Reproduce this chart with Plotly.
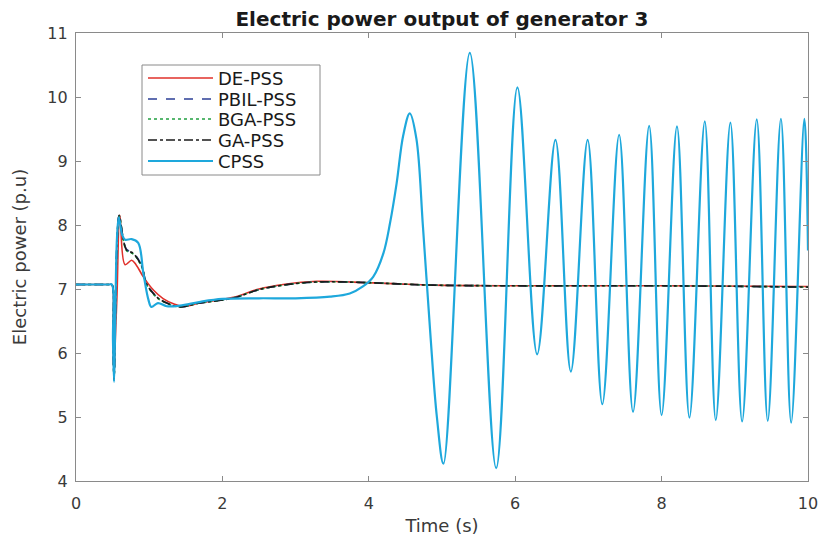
import plotly.graph_objects as go

# Electric power output of generator 3 under different PSS designs (p.u. vs time in s)

# CPSS response (unstable, growing oscillation after ~3.8 s)
t_cpss = [0, 0.45, 0.49, 0.505, 0.52, 0.535, 0.56, 0.585, 0.63, 0.67, 0.76, 0.85, 0.92,
          0.99, 1.03, 1.12, 1.24, 1.42, 1.7, 2.0, 2.5, 3.0, 3.47, 3.74, 3.92, 4.06, 4.20,
          4.29, 4.38, 4.47, 4.56, 4.65, 4.74, 4.84, 4.93, 5.02, 5.38, 5.74, 6.03, 6.30,
          6.55, 6.76, 6.99, 7.19, 7.42, 7.61, 7.83, 8.00, 8.21, 8.38, 8.59, 8.74, 8.94,
          9.10, 9.30, 9.45, 9.63, 9.77, 9.95, 10.0]
p_cpss = [7.07, 7.07, 7.07, 6.2, 5.55, 6.4, 7.8, 8.12, 7.85, 7.77, 7.78, 7.72, 7.25,
          6.83, 6.72, 6.78, 6.73, 6.74, 6.80, 6.845, 6.855, 6.855, 6.88, 6.93, 7.04, 7.19, 7.56,
          8.03, 8.65, 9.40, 9.745, 9.35, 7.97, 6.31, 5.00, 4.27, 10.69, 4.20, 10.15, 5.98,
          9.33, 5.71, 9.33, 5.20, 9.41, 5.08, 9.55, 5.03, 9.54, 4.99, 9.62, 4.95, 9.60,
          4.93, 9.65, 4.94, 9.66, 4.91, 9.66, 7.60]

# DE-PSS response
t_de = [0, 0.45, 0.49, 0.505, 0.52, 0.54, 0.56, 0.60, 0.67, 0.76, 0.82, 0.92, 1.06,
        1.19, 1.33, 1.47, 1.69, 2.15, 2.5, 2.83, 3.29, 3.97, 4.4, 4.88, 6.0, 8.0, 10.0]
p_de = [7.07, 7.07, 7.07, 6.3, 5.65, 6.3, 6.9, 8.15, 7.38, 7.45, 7.38, 7.19, 6.98,
        6.85, 6.77, 6.73, 6.78, 6.87, 7.0, 7.07, 7.12, 7.10, 7.08, 7.06, 7.05, 7.05, 7.04]

# GA-PSS response
t_ga = [0, 0.45, 0.49, 0.505, 0.52, 0.535, 0.56, 0.59, 0.69, 0.78, 0.90, 0.96, 1.10,
        1.24, 1.42, 1.69, 2.15, 2.5, 2.83, 3.29, 3.97, 4.4, 4.88, 6.0, 8.0, 10.0]
p_ga = [7.07, 7.07, 7.07, 6.2, 5.58, 6.4, 7.7, 8.15, 7.61, 7.56, 7.35, 7.09, 6.88,
        6.78, 6.72, 6.78, 6.86, 6.99, 7.06, 7.11, 7.10, 7.08, 7.06, 7.05, 7.05, 7.03]

# PBIL-PSS response
t_pbil = t_ga
p_pbil = [7.07, 7.07, 7.07, 6.2, 5.58, 6.4, 7.7, 8.14, 7.62, 7.57, 7.36, 7.10, 6.88,
          6.78, 6.72, 6.78, 6.86, 6.99, 7.06, 7.11, 7.10, 7.08, 7.06, 7.05, 7.05, 7.03]

# BGA-PSS response
t_bga = t_ga
p_bga = [7.07, 7.07, 7.07, 6.2, 5.58, 6.4, 7.7, 8.14, 7.60, 7.55, 7.34, 7.08, 6.87,
         6.78, 6.72, 6.78, 6.86, 6.99, 7.06, 7.11, 7.10, 7.08, 7.06, 7.05, 7.05, 7.03]

x_ticks = [0, 2, 4, 6, 8, 10]
y_ticks = [4, 5, 6, 7, 8, 9, 10, 11]

FONT = "DejaVu Sans, Liberation Sans, sans-serif"
AXIS_GRAY = "#8a8a8a"
TEXT_GRAY = "#3a3a3a"

series = [
    ("DE-PSS", t_de, p_de, "#e0302a", "solid", 1.6),
    ("PBIL-PSS", t_pbil, p_pbil, "#2c3f96", "dash", 1.6),
    ("BGA-PSS", t_bga, p_bga, "#22a040", "dot", 1.6),
    ("GA-PSS", t_ga, p_ga, "#1a1a1a", "dashdot", 1.6),
    ("CPSS", t_cpss, p_cpss, "#1ea8dc", "solid", 2.2),
]

# plot-area geometry in pixels (used to place the legend box)
W, H = 825, 540
ML, MR, MT, MB = 76, 17, 33, 59
PW, PH = W - ML - MR, H - MT - MB


def px_x(x):
    return (x - ML) / PW


def px_y(y):
    return (H - MB - y) / PH


fig = go.Figure()
for name, t, p, color, dash, width in series:
    fig.add_trace(go.Scatter(
        x=t, y=p, mode="lines", name=name, showlegend=False,
        line=dict(color=color, dash=dash, width=width, shape="spline", smoothing=1.0),
    ))

# legend box with line samples and labels
shapes = [dict(type="rect", xref="paper", yref="paper",
               x0=px_x(142), x1=px_x(320), y0=px_y(175), y1=px_y(65),
               line=dict(color=AXIS_GRAY, width=1), fillcolor="white", layer="above")]
annotations = []
row_y = [78, 99, 119, 140, 161]
for (name, _, _, color, dash, width), ry in zip(series, row_y):
    shapes.append(dict(type="line", xref="paper", yref="paper",
                       x0=px_x(148), x1=px_x(213), y0=px_y(ry), y1=px_y(ry),
                       line=dict(color=color, dash=dash, width=width), layer="above"))
    annotations.append(dict(xref="paper", yref="paper", x=px_x(216), y=px_y(ry),
                            xanchor="left", yanchor="middle", showarrow=False, text=name,
                            font=dict(family=FONT, size=18, color="#1a1a1a")))

axis_common = dict(
    showline=True, linecolor=AXIS_GRAY, linewidth=1.2, mirror="ticks",
    ticks="inside", ticklen=5, tickcolor=AXIS_GRAY, tickwidth=1,
    showgrid=False, zeroline=False, automargin=False,
    tickfont=dict(family=FONT, size=16, color=TEXT_GRAY),
)

fig.update_xaxes(range=[0, 10], tickvals=x_ticks, ticktext=[str(v) for v in x_ticks],
                 ticklabelstandoff=8,
                 title=dict(text="Time (s)", font=dict(family=FONT, size=18, color=TEXT_GRAY),
                            standoff=7),
                 **axis_common)
fig.update_yaxes(range=[4, 11], tickvals=y_ticks, ticktext=[str(v) for v in y_ticks],
                 ticklabelstandoff=4,
                 title=dict(text="Electric power (p.u)", font=dict(family=FONT, size=18, color=TEXT_GRAY),
                            standoff=16),
                 **axis_common)

fig.update_layout(
    width=W, height=H,
    margin=dict(l=ML, r=MR, t=MT, b=MB),
    paper_bgcolor="white", plot_bgcolor="white",
    title=dict(text="<b>Electric power output of generator 3</b>",
               font=dict(family=FONT, size=20, color="#1a1a1a"),
               x=0.5, xanchor="center", y=1 - 19 / H, yanchor="middle",
               xref="paper"),
    shapes=shapes,
    annotations=annotations,
    showlegend=False,
)

fig.write_html("out.html")
